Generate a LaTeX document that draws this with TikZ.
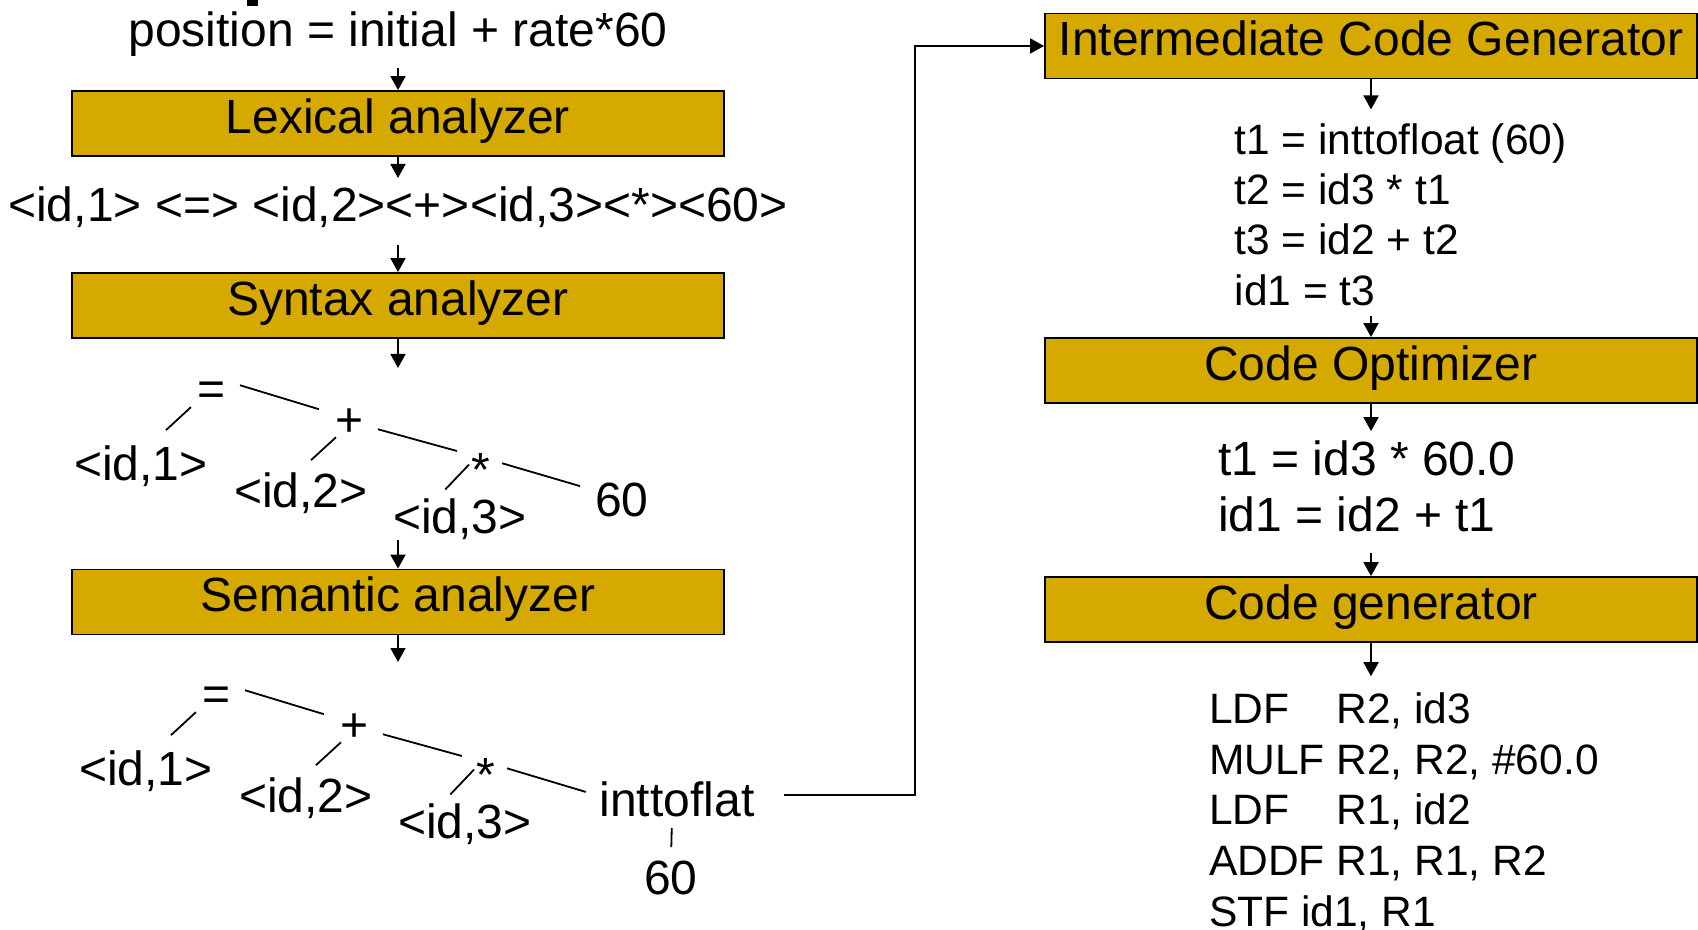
\documentclass[tikz,border=0pt]{standalone}
\usepackage{fontspec}
\setmainfont{Liberation Sans}
\usetikzlibrary{arrows.meta}
\definecolor{phasegold}{RGB}{214,169,0}
\tikzset{
phase/.style={draw,fill=phasegold,minimum width=326pt,minimum height=32.5pt,inner sep=0pt,text height=16.8pt,text depth=7pt,font=\fontsize{24pt}{28pt}\selectfont},
tn/.style={anchor=base,inner sep=0pt,outer sep=0pt,text height=17.3pt,text depth=5.3pt,yshift=-.6pt,font=\fontsize{24pt}{28pt}\selectfont},
code/.style={anchor=base west,inner sep=0pt,outer sep=0pt,yshift=-.6pt}}
\begin{document}
\begin{tikzpicture}[x=50pt,y=50pt,line width=.9pt,>={Triangle[length=7pt,width=7.5pt]}]
\useasboundingbox(0,0)rectangle(16.98,-9.3);
\fill(2.47,0)rectangle(2.58,-.06);
% front end
\node[tn](src)at(3.98,-.45){position = initial + rate*60};
\node[phase](lex)at(3.98,-1.235){Lexical analyzer};
\node[tn](tok)at(3.98,-2.2){<id,1> <=> <id,2><+><id,3><*><60>};
\node[phase](syn)at(3.98,-3.055){Syntax analyzer};
\coordinate(s1)at(3.98,-3.68);\coordinate(s2)at(3.98,-5.4);
\node[phase](sem)at(3.98,-6.02){Semantic analyzer};
\coordinate(s3)at(3.98,-6.62);
\draw[->,shorten <=5.6pt](src.south)--(lex.north);
\draw[->,shorten >=4.3pt](lex.south)--(tok.north);
\draw[->,shorten <=6.6pt](tok.south)--(syn.north);
\draw[->](syn.south)--(s1);\draw[->](s2)--(sem.north);\draw[->](sem.south)--(s3);
% the two trees
\foreach \t/\dx/\dy in {a/0/0,b/.05/-3.05}{
\begin{scope}[shift={(\dx,\dy)}]
\node[tn](eq\t)at(2.12,-4.04){=};\node[tn](id1\t)at(1.41,-4.79){<id,1>};
\node[tn](plus\t)at(3.5,-4.35){+};\node[tn](id2\t)at(3.01,-5.06){<id,2>};
\node[tn](star\t)at(4.81,-4.85){*};\node[tn](id3\t)at(4.6,-5.32){<id,3>};
\draw[shorten <=4.8pt,shorten >=11.4pt](eq\t.-152)--(id1\t.70);
\draw[shorten <=7.3pt,shorten >=8.9pt](eq\t.41)--(plus\t.145);
\draw[shorten >=9.2pt](plus\t.-137)--(id2\t.99);
\draw[shorten <=7.2pt,shorten >=7.6pt](plus\t.-5)--(star\t.116);
\draw[shorten <=1.9pt,shorten >=6.3pt](star\t.127)--(id3\t.136);
\end{scope}}
\node[tn](n60a)at(6.22,-5.15){60};
\draw[shorten <=6.1pt,shorten >=8pt](stara.57)--(n60a.153);
\node[tn](itf)at(6.77,-8.15){inttoflat};\node[tn](n60b)at(6.71,-8.93){60};
\draw[shorten <=6.1pt,shorten >=7.2pt](starb.57)--(itf.174);
\draw[shorten <=.5pt,shorten >=6.2pt](itf.-103)--(n60b.north);
% back end
\node[phase](icg)at(13.71,-.46){Intermediate Code Generator};
\node[code,font=\fontsize{21.25pt}{25.15pt}\selectfont](irc)at(12.346,-1.53){\begin{tabular}[t]{@{}l@{}}t1 = inttofloat (60)\\t2 = id3 * t1\\t3 = id2 + t2\\id1 = t3\end{tabular}};
\node[phase](co)at(13.71,-3.705){Code Optimizer};
\node[code,font=\fontsize{24pt}{28pt}\selectfont](oc)at(12.18,-4.747){\begin{tabular}[t]{@{}l@{}}t1 = id3 * 60.0\\id1 = id2 + t1\end{tabular}};
\node[phase](cg)at(13.71,-6.095){Code generator};
\node[code,font=\fontsize{21.25pt}{25.4pt}\selectfont](asm)at(12.09,-7.22){\begin{tabular}[t]{@{}l@{ }l@{}}LDF&R2, id3\\MULF&R2, R2, \#60.0\\LDF&R1, id2\\ADDF&R1, R1, R2\\\multicolumn{2}{@{}l@{}}{STF id1, R1}\end{tabular}};
\draw[->,shorten <=15pt](itf.7)--++(1.606,0)|-(icg.west);
\draw[->,shorten >=4.8pt](icg.south)--(icg.south|-irc.north);
\draw[->,shorten <=-1.9pt](co.north|-irc.south)--(co.north);
\draw[->,shorten >=2.8pt](co.south)--(co.south|-oc.north);
\draw[->,shorten <=2.2pt](cg.north|-oc.south)--(cg.north);
\draw[->,shorten >=5.7pt](cg.south)--(cg.south|-asm.north);
\end{tikzpicture}
\end{document}
